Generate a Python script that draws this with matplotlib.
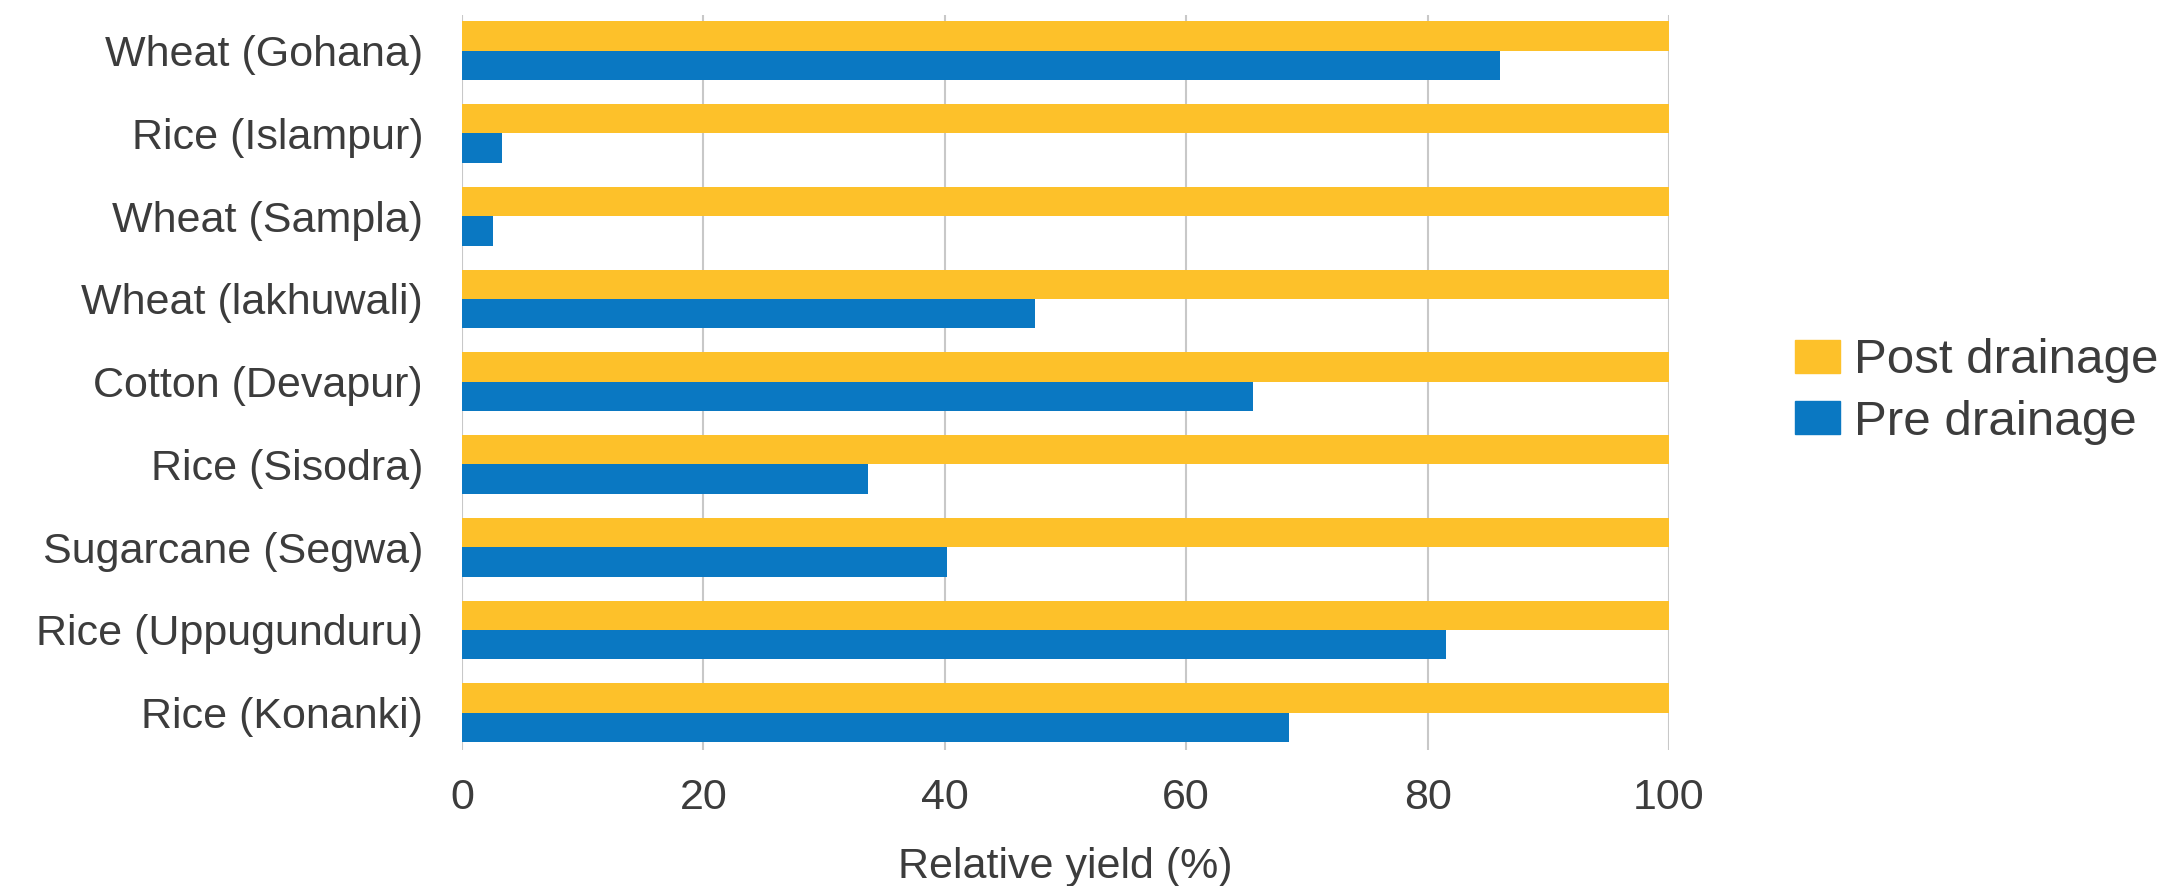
import numpy as np
import matplotlib.pyplot as plt
from matplotlib.patches import Patch

plt.rcParams['font.family'] = ['Liberation Sans', 'DejaVu Sans']

# Datos
sites = ["Wheat (Gohana)", "Rice (Islampur)", "Wheat (Sampla)", "Wheat (lakhuwali)",
         "Cotton (Devapur)", "Rice (Sisodra)", "Sugarcane (Segwa)",
         "Rice (Uppugunduru)", "Rice (Konanki)"]
post_drainage = [100, 100, 100, 100, 100, 100, 100, 100, 100]
pre_drainage = [86.0, 3.3, 2.6, 47.5, 65.5, 33.6, 40.2, 81.5, 68.5]
xticks = [0, 20, 40, 60, 80, 100]

yellow = '#FDC12A'
blue = '#0A78C2'
text_color = '#3C3C3C'

fig = plt.figure(figsize=(21.69, 8.86), dpi=100)
ax = fig.add_axes([0.213, 0.1535, 0.5565, 0.8295])

y = np.arange(len(sites))
h = 0.355
ax.barh(y - h / 2, post_drainage, height=h, color=yellow, zorder=3)
ax.barh(y + h / 2, pre_drainage, height=h, color=blue, zorder=3)

ax.set_ylim(len(sites) - 1 + 0.45, -0.43)
ax.set_xlim(0, 100)
ax.set_yticks(y)
ax.set_yticklabels(sites)
ax.set_xticks(xticks)
ax.set_xticklabels([str(t) for t in xticks])

ax.grid(axis='x', color='#C8C8C8', linewidth=1.5, zorder=0)
for s in ax.spines.values():
    s.set_visible(False)
ax.tick_params(axis='both', length=0, labelsize=31, colors=text_color)
ax.tick_params(axis='y', pad=28)
ax.tick_params(axis='x', pad=20)
ax.set_xlabel("Relative yield (%)", fontsize=31, color=text_color, labelpad=21)

handles = [Patch(color=yellow), Patch(color=blue)]
fig.legend(handles, ["Post drainage", "Pre drainage"], loc='center left',
           bbox_to_anchor=(0.8277, 0.558), frameon=False, fontsize=35.5,
           borderpad=0, borderaxespad=0,
           handlelength=0.9, handleheight=0.65, handletextpad=0.3,
           labelspacing=0.33, labelcolor=text_color)

fig.savefig("out.png", dpi=100)
